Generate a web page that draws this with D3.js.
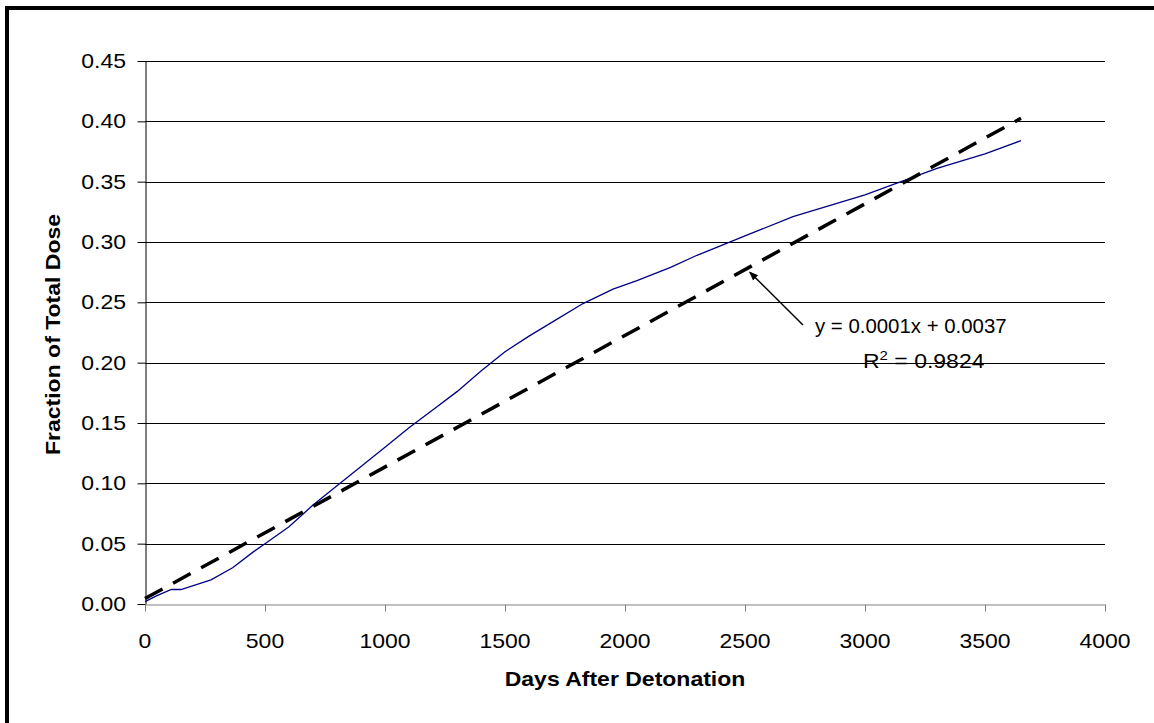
<!DOCTYPE html>
<html>
<head>
<meta charset="utf-8">
<script src="https://cdn.jsdelivr.net/npm/d3@7"></script>
<style>
  html, body { margin: 0; padding: 0; background: #fff; }
  svg { display: block; }
  text { font-family: Arial, "Liberation Sans", sans-serif; fill: #000; }
</style>
</head>
<body>
<svg id="chart" width="1154" height="723"></svg>
<script>
// ---- data ----
const days = [0, 50, 110, 150, 275, 365, 450, 500, 550, 600, 700, 800, 900, 1000, 1100, 1200, 1300, 1400, 1500, 1600, 1700, 1825, 1950, 2050, 2190, 2300, 2500, 2700, 2900, 3000, 3150, 3300, 3500, 3650];
const doseFraction = [0.002, 0.007, 0.012, 0.012, 0.020, 0.030, 0.043, 0.050, 0.057, 0.064, 0.082, 0.098, 0.114, 0.130, 0.146, 0.161, 0.176, 0.193, 0.209, 0.222, 0.234, 0.249, 0.261, 0.268, 0.279, 0.289, 0.305, 0.321, 0.333, 0.339, 0.350, 0.361, 0.373, 0.384];
const trendDays = [0, 3650];
const trendValues = [0.0045, 0.4025];
const xTicks = [0, 500, 1000, 1500, 2000, 2500, 3000, 3500, 4000];
const yTicks = [0, 0.05, 0.10, 0.15, 0.20, 0.25, 0.30, 0.35, 0.40, 0.45];
const xTitle = "Days After Detonation";
const yTitle = "Fraction of Total Dose";
const eqLine1 = "y = 0.0001x + 0.0037";
const annotationPoint = [2520, 0.275];

// ---- layout ----
const svg = d3.select("#chart");
const pLeft = 145, pRight = 1105, pTop = 61, pBottom = 604;
const SX = 1.15; // horizontal glyph stretch seen in reference
const x = d3.scaleLinear().domain([0, 4000]).range([pLeft, pRight]);
const y = d3.scaleLinear().domain([0, 0.45]).range([pBottom, pTop]);

// outer chart border (only top & left visible)
svg.append("rect").attr("x", 7).attr("y", 8).attr("width", 1170).attr("height", 740)
  .attr("fill", "none").attr("stroke", "#000").attr("stroke-width", 4);

// gridlines
svg.append("g").selectAll("line").data(yTicks.filter(d => d > 0)).join("line")
  .attr("x1", pLeft).attr("x2", pRight)
  .attr("y1", d => Math.round(y(d)) + 0.5).attr("y2", d => Math.round(y(d)) + 0.5)
  .attr("stroke", "#000").attr("stroke-width", 1);

function stretchedText(g, xx, yy, str, opts) {
  return g.append("text")
    .attr("transform", `translate(${xx},${yy}) rotate(${opts.rotate || 0}) scale(${opts.sx || SX},1)`)
    .attr("text-anchor", opts.anchor || "start")
    .attr("font-size", opts.size || 20)
    .attr("font-weight", opts.weight || "normal")
    .text(str);
}

// y axis
const yAxis = svg.append("g").attr("transform", `translate(${pLeft + 0.5},0)`)
  .call(d3.axisLeft(y).tickValues(yTicks).tickSize(8).tickSizeOuter(0).tickFormat(""));
yAxis.select(".domain").attr("stroke", "#000");
yAxis.selectAll(".tick line").attr("stroke", "#000");
yTicks.forEach(v => stretchedText(svg, 126, y(v) + 7, d3.format(".2f")(v), { anchor: "end" }));

// x axis
const xAxis = svg.append("g").attr("transform", `translate(0,${pBottom + 0.5})`)
  .call(d3.axisBottom(x).tickValues(xTicks).tickSize(7).tickSizeOuter(0).tickFormat(""));
xAxis.select(".domain").attr("stroke", "#808080");
xAxis.selectAll(".tick line").attr("stroke", "#808080");
xTicks.forEach(v => stretchedText(svg, x(v), 648, String(v), { anchor: "middle" }));

// axis titles
stretchedText(svg, (pLeft + pRight) / 2, 686, xTitle, { anchor: "middle", weight: "bold" });
svg.append("text")
  .attr("transform", `translate(60,${(pTop + pBottom) / 2 + 2}) rotate(-90) scale(${SX},1)`)
  .attr("text-anchor", "middle").attr("font-size", 20).attr("font-weight", "bold")
  .text(yTitle);

// data line
const line = d3.line().x((d, i) => x(days[i])).y(d => y(d));
svg.append("path").datum(doseFraction).attr("d", line)
  .attr("fill", "none").attr("stroke", "#000080").attr("stroke-width", 1.3);

// trend line
const tline = d3.line().x((d, i) => x(trendDays[i])).y(d => y(d));
svg.append("path").datum(trendValues).attr("d", tline)
  .attr("fill", "none").attr("stroke", "#000").attr("stroke-width", 3.5)
  .attr("stroke-dasharray", "20,12");

// annotation arrow
svg.append("defs").append("marker").attr("id", "arr")
  .attr("viewBox", "0 0 10 10").attr("refX", 9).attr("refY", 5)
  .attr("markerWidth", 6).attr("markerHeight", 6).attr("orient", "auto")
  .append("path").attr("d", "M0,1 L10,5 L0,9 z").attr("fill", "#000");
svg.append("line")
  .attr("x1", 803).attr("y1", 325)
  .attr("x2", x(annotationPoint[0])).attr("y2", y(annotationPoint[1]))
  .attr("stroke", "#000").attr("stroke-width", 1.5).attr("marker-end", "url(#arr)");

// equation text
stretchedText(svg, 815, 333, eqLine1, { anchor: "start", sx: 1.02 });
const r2 = svg.append("text")
  .attr("transform", `translate(863,368) scale(${SX},1)`)
  .attr("font-size", 20);
r2.append("tspan").text("R");
r2.append("tspan").attr("font-size", 13).attr("dy", -8).text("2");
r2.append("tspan").attr("dy", 8).text(" = 0.9824");
</script>
</body>
</html>
